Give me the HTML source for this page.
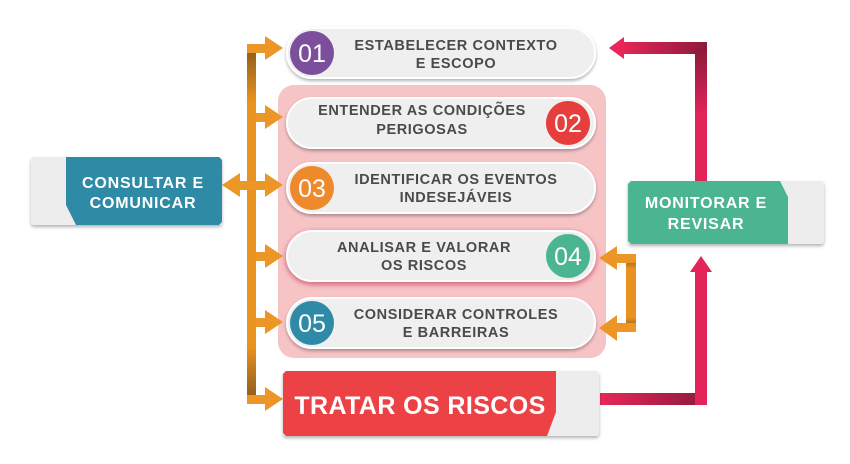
<!DOCTYPE html>
<html><head><style>
body{margin:0;background:#fff;width:850px;height:464px;overflow:hidden}
svg{display:block}
text{font-family:"Liberation Sans",sans-serif;font-weight:bold}
</style></head><body>
<svg width="850" height="464" viewBox="0 0 850 464" xmlns="http://www.w3.org/2000/svg">
<defs>
<linearGradient id="og" x1="0" y1="0" x2="0" y2="1"><stop offset="0" stop-color="#8a5a1c"/><stop offset="0.15" stop-color="#e8921f"/><stop offset="0.85" stop-color="#e8921f"/><stop offset="1" stop-color="#8a5a1c"/></linearGradient>
<linearGradient id="pk" x1="0" y1="0" x2="1" y2="0"><stop offset="0" stop-color="#e8265a"/><stop offset="1" stop-color="#8c1a3a"/></linearGradient>
<linearGradient id="pkv" x1="0" y1="0" x2="0" y2="1"><stop offset="0" stop-color="#8c1a3a"/><stop offset="0.5" stop-color="#e2245a"/></linearGradient>
<filter id="sh" x="-10%" y="-20%" width="120%" height="150%"><feDropShadow dx="0" dy="2" stdDeviation="1.5" flood-opacity="0.3"/></filter>
<filter id="rsh" x="-10%" y="-30%" width="120%" height="160%"><feDropShadow dx="0" dy="2" stdDeviation="3" flood-color="#b0102a" flood-opacity="0.6"/></filter>
</defs>
<rect x="278" y="85" width="328" height="273" rx="16" fill="#f7c4c6"/>
<rect x="247" y="48" width="9" height="352" fill="url(#og)"/>
<g fill="#eb9626">
<rect x="247" y="44" width="20" height="9"/><polygon points="265,36 283,48 265,60"/>
<rect x="256" y="113" width="11" height="9"/><polygon points="265,105 283,117 265,129"/>
<rect x="238" y="181" width="29" height="9"/><polygon points="265,173 283,185 265,197"/><polygon points="240,173 222,185 240,197"/>
<rect x="256" y="252" width="11" height="9"/><polygon points="265,244 283,256 265,268"/>
<rect x="256" y="318" width="11" height="9"/><polygon points="265,310 283,322 265,334"/>
<rect x="247" y="395" width="20" height="9"/><polygon points="265,387 283,399 265,411"/>
<rect x="626" y="258" width="10" height="70" fill="url(#og)"/>
<rect x="615" y="254" width="21" height="9"/><polygon points="617,246 599,258 617,270"/>
<rect x="615" y="323" width="21" height="9"/><polygon points="617,315 599,328 617,341"/>
</g>
<rect x="600" y="393" width="107" height="12" fill="url(#pk)"/>
<rect x="695" y="270" width="12" height="135" fill="#e2245a"/>
<polygon points="690,272 701,256 712,272" fill="#e2245a"/>
<rect x="620" y="42" width="87" height="12" fill="url(#pk)"/>
<rect x="695" y="48" width="12" height="133" fill="url(#pkv)"/>
<polygon points="624,37 609,48 624,59" fill="#e8265a"/>
<g filter="url(#sh)" fill="#efefef" stroke="#fff" stroke-width="2">
<rect x="287" y="28" width="308" height="50" rx="25"/>
<rect x="287" y="98" width="308" height="50" rx="25"/>
<rect x="287" y="163" width="308" height="50" rx="25"/>
<rect x="287" y="298" width="308" height="50" rx="25"/>
</g>
<rect x="287" y="231" width="308" height="50" rx="25" fill="#efefef" stroke="#fff" stroke-width="2" filter="url(#rsh)"/>
<circle cx="312" cy="53" r="22" fill="#7b4f9c"/>
<circle cx="568" cy="123" r="22" fill="#e63d3d"/>
<circle cx="312" cy="188" r="22" fill="#ee8a2c"/>
<circle cx="568" cy="256" r="22" fill="#4bb592"/>
<circle cx="312" cy="323" r="22" fill="#2e8aa7"/>
<g fill="#fff" font-size="25" text-anchor="middle">
<text x="312" y="62" style="font-weight:normal">01</text>
<text x="568" y="132" style="font-weight:normal">02</text>
<text x="312" y="197" style="font-weight:normal">03</text>
<text x="568" y="265" style="font-weight:normal">04</text>
<text x="312" y="332" style="font-weight:normal">05</text>
</g>
<g fill="#4a4a4a" font-size="14.5" text-anchor="middle" letter-spacing="0.6">
<text x="456" y="50">ESTABELECER CONTEXTO</text><text x="456" y="68">E ESCOPO</text>
<text x="422" y="115">ENTENDER AS CONDIÇÕES</text><text x="422" y="134">PERIGOSAS</text>
<text x="456" y="184">IDENTIFICAR OS EVENTOS</text><text x="456" y="202">INDESEJÁVEIS</text>
<text x="424" y="252">ANALISAR E VALORAR</text><text x="424" y="270">OS RISCOS</text>
<text x="456" y="319">CONSIDERAR CONTROLES</text><text x="456" y="337">E BARREIRAS</text>
</g>
<g filter="url(#sh)">
<rect x="31" y="157" width="191" height="68" rx="3" fill="#ededed"/>
<polygon points="66,157 219,157 222,160 222,222 219,225 76,225 66,205" fill="#2f8aa5"/>
</g>
<g fill="#fff" font-size="16" text-anchor="middle" letter-spacing="0.8"><text x="143" y="188">CONSULTAR E</text><text x="143" y="208">COMUNICAR</text></g>
<g filter="url(#sh)">
<rect x="628" y="181" width="196" height="63" rx="3" fill="#ededed"/>
<polygon points="631,181 780,181 788,197 788,244 631,244 628,241 628,184" fill="#4bb592"/>
</g>
<g fill="#fff" font-size="16" text-anchor="middle" letter-spacing="0.8"><text x="706" y="208">MONITORAR E</text><text x="706" y="229">REVISAR</text></g>
<g filter="url(#sh)">
<rect x="283" y="371" width="316" height="65" rx="3" fill="#ededed"/>
<polygon points="286,371 556,371 556,412 547,436 286,436 283,433 283,374" fill="#ec4245"/>
</g>
<text x="420" y="414" fill="#fff" font-size="25" text-anchor="middle" letter-spacing="0.4">TRATAR OS RISCOS</text>
</svg>
</body></html>
